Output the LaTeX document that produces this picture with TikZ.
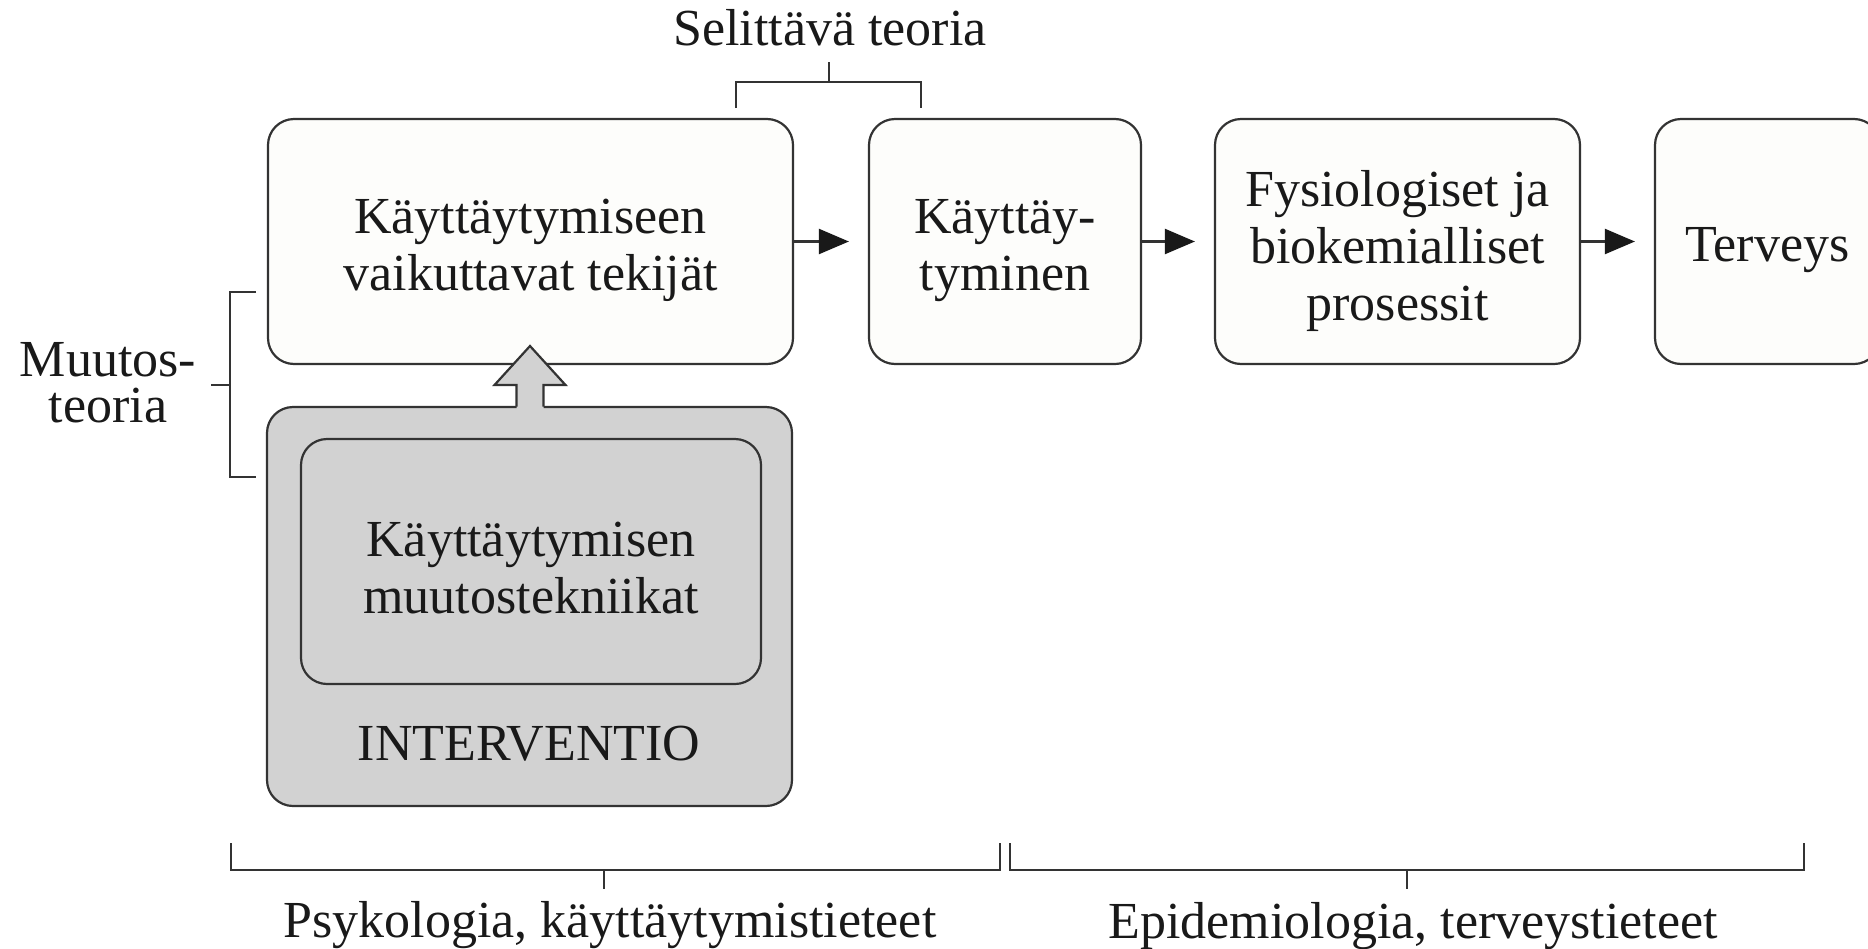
\documentclass[tikz,border=0pt]{standalone}
\usepackage{fontspec}
\setmainfont{Liberation Serif}
\usetikzlibrary{arrows.meta}
\definecolor{ink}{HTML}{333333}
\definecolor{paper}{HTML}{FDFDFB}
\definecolor{greyfill}{HTML}{D2D2D2}
\begin{document}
\begin{tikzpicture}[x=1pt,y=-1pt,
  every node/.style={font=\fontsize{52}{57}\selectfont, text=black!90},
  card/.style={draw=ink, line width=2.2pt, rounded corners=26pt, fill=paper,
    inner sep=0pt, minimum height=245pt},
  greycard/.style={card, fill=greyfill},
  cardtext/.style={align=center, inner sep=0pt},
  flow/.style={draw=ink, line width=2.2pt,
    -{Triangle[length=30pt,width=25pt,color=black!90,fill=black!90]},
    shorten >=19pt},
  brk/.style={draw=ink, line width=2pt},
  lbl/.style={anchor=base, inner sep=0pt}
]
\useasboundingbox (0,0) rectangle (1868,948);
\clip (0,0) rectangle (1868,948);

% main chain: frames, then their texts set slightly below centre
\node[card, minimum width=525pt] (tekijat) at (530.5,241.5) {};
\node[card, minimum width=272pt] (kaytt) at (1005,241.5) {};
\node[card, minimum width=365pt] (fysio) at (1397.5,241.5) {};
\node[card, minimum width=225pt] (terveys) at (1767.5,241.5) {};

\node[cardtext] (tekijat-t) at ([yshift=-9pt]tekijat.center) {Käyttäytymiseen\\vaikuttavat tekijät};
\node[cardtext] (kaytt-t) at ([yshift=-9pt]kaytt.center) {Käyttäy-\\tyminen};
\node[cardtext] (fysio-t) at ([yshift=-9pt]fysio.center) {Fysiologiset ja\\biokemialliset\\prosessit};
\node[cardtext] (terveys-t) at ([yshift=-9pt]terveys.center) {Terveys};

\draw[flow] (tekijat) -- (kaytt);
\draw[flow] (kaytt) -- (fysio);
\draw[flow] (fysio) -- (terveys);

% intervention block
\node[greycard, minimum width=525pt, minimum height=399pt] (interv) at (529.5,606.5) {};
\node[greycard, minimum width=460pt, minimum height=245pt] (tekniikat) at (531,561.5) {};
\node[cardtext] (tekniikat-t) at ([yshift=-7pt]tekniikat.center) {Käyttäytymisen\\muutostekniikat};
\node[lbl] (intlabel) at (529,760) {INTERVENTIO};

% hollow block arrow from the intervention up into the factors box
\fill[greyfill] (516.5,410) -- (516.5,385) -- (494.5,385) -- (530,346) -- (565.5,385)
  -- (543.5,385) -- (543.5,410) -- cycle;
\draw[ink, line width=2.2pt, line join=miter] (516.5,406.5) -- (516.5,385) -- (494.5,385)
  -- (530,346) -- (565.5,385) -- (543.5,385) -- (543.5,406.5);

% explanatory theory bracket
\draw[brk] (736,108) -- (736,82) -- (921,82) -- (921,108);
\draw[brk] (829,82) -- (829,62);
\node[lbl] (selit) at (830,45) {Selittävä teoria};

% theory of change bracket
\draw[brk] (256,292) -- (230,292) -- (230,477) -- (256,477);
\draw[brk] (230,385) -- (211,385);
\node[lbl] (muutos1) at (108,376) {Muutos-};
\node[lbl] (muutos2) at (108,422) {teoria};

% discipline brackets
\draw[brk] (231,843) -- (231,870) -- (1000,870) -- (1000,843);
\draw[brk] (604,870) -- (604,889);
\node[lbl] (psyk) at (610,937) {Psykologia, käyttäytymistieteet};

\draw[brk] (1010,843) -- (1010,870) -- (1804,870) -- (1804,843);
\draw[brk] (1407,870) -- (1407,889);
\node[lbl] (epid) at (1413,938) {Epidemiologia, terveystieteet};
\end{tikzpicture}
\end{document}
